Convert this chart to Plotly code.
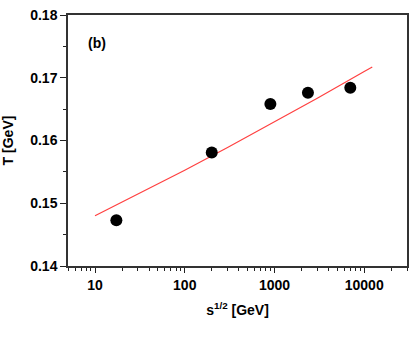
import plotly.graph_objects as go

# --- data ---
sqrt_s = [17.3, 200, 900, 2360, 7000]
temp = [0.1473, 0.1581, 0.1658, 0.1676, 0.1684]

fit_x = [10, 30, 100, 300, 1000, 3000, 10000, 12300]
fit_t = [0.1480, 0.15142, 0.15527, 0.15887, 0.16294, 0.16673, 0.17098, 0.17171]

y_ticks = [0.14, 0.15, 0.16, 0.17, 0.18]
x_ticks = [10, 100, 1000, 10000]

FONT = "Liberation Sans, Arial, sans-serif"

fig = go.Figure()
fig.add_trace(go.Scatter(
    x=fit_x, y=fit_t, mode="lines",
    line=dict(color="#ff4040", width=1.2), showlegend=False,
))
fig.add_trace(go.Scatter(
    x=sqrt_s, y=temp, mode="markers",
    marker=dict(color="black", size=12), showlegend=False,
))

fig.update_xaxes(
    type="log", range=[0.699, 4.477], automargin=False,
    tickvals=x_ticks, ticktext=[str(v) for v in x_ticks],
    ticks="outside", ticklen=5, tickwidth=1.3, tickcolor="#222",
    minor=dict(ticks="outside", ticklen=3, tickwidth=1, tickcolor="#222", dtick="D1", showgrid=False),
    showline=True, linecolor="#333", linewidth=1.5, mirror=True,
    showgrid=False, zeroline=False,
    tickfont=dict(family=FONT, size=14, color="black", weight="bold"),
    title=dict(text="s<sup>1/2</sup> [GeV]", standoff=14,
               font=dict(family=FONT, size=14, color="black", weight="bold")),
)
fig.update_yaxes(
    range=[0.14, 0.18], automargin=False,
    tickvals=y_ticks, ticktext=[f"{v:.2f}" for v in y_ticks],
    ticks="outside", ticklen=6, tickwidth=1.3, tickcolor="#222",
    minor=dict(ticks="outside", ticklen=3, tickwidth=1, tickcolor="#222", dtick=0.005, showgrid=False),
    showline=True, linecolor="#333", linewidth=1.5, mirror=True,
    showgrid=False, zeroline=False,
    tickfont=dict(family=FONT, size=14, color="black", weight="bold"),
    title=dict(text="T [GeV]", standoff=14,
               font=dict(family=FONT, size=14, color="black", weight="bold")),
)

fig.add_annotation(
    x=0.053, y=0.888, xref="paper", yref="paper", xanchor="left", yanchor="middle",
    text="(b)", showarrow=False,
    font=dict(family=FONT, size=14, color="black", weight="bold"),
)

fig.update_layout(
    width=415, height=337,
    margin=dict(l=68, r=8, t=15, b=71),
    plot_bgcolor="white", paper_bgcolor="white",
)

fig.write_html("out.html", config={"displayModeBar": False},
               post_script="document.body.style.margin='0';")
